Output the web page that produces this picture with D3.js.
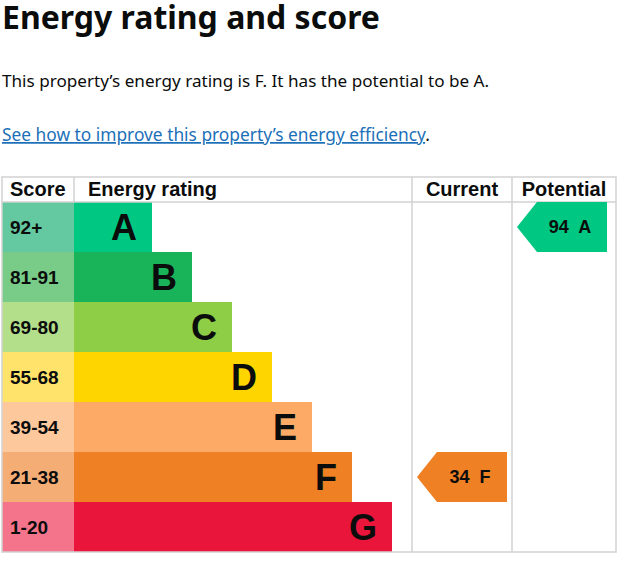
<!DOCTYPE html>
<html>
<head>
<meta charset="utf-8">
<script src="https://cdn.jsdelivr.net/npm/d3@7"></script>
<style>
  body { margin: 0; background: #fff; }
  svg text { white-space: pre; }
</style>
</head>
<body>
<div id="epc"></div>
<script>
// Rating bands, top (best) to bottom
const ratings = ["A", "B", "C", "D", "E", "F", "G"];
const scoreRanges = ["92+", "81-91", "69-80", "55-68", "39-54", "21-38", "1-20"];
const barColors = ["#00c781", "#19b459", "#8dce46", "#ffd500", "#fcaa65", "#ef8023", "#e9153b"];
const scoreColors = ["#64c8a0", "#78cc87", "#b3de8a", "#ffe36a", "#fec89d", "#f5ad76", "#f3748b"];
const headers = ["Score", "Energy rating", "Current", "Potential"];

// Current and potential scores
const currentScore = 34, currentRating = "F";
const potentialScore = 94, potentialRating = "A";

const width = 623, height = 564;
const font = "'Liberation Sans', Arial, sans-serif";
const bodyFont = "'Noto Sans', 'Open Sans', sans-serif";
const grid = "#d2d2d2";

const svg = d3.select("#epc").append("svg")
  .attr("width", width)
  .attr("height", height);

// shrink / grow a text until it is the wanted width
function fit(sel, target) {
  const node = sel.node();
  const size = parseFloat(sel.attr("font-size"));
  const w = node.getComputedTextLength();
  sel.attr("font-size", (size * target / w).toFixed(2));
  return sel;
}

// Heading and intro text
fit(svg.append("text")
  .attr("x", 2).attr("y", 29)
  .attr("font-family", bodyFont).attr("font-weight", 700).attr("font-size", 32)
  .attr("fill", "#0b0c0c")
  .text("Energy rating and score"), 378);

fit(svg.append("text")
  .attr("x", 2).attr("y", 87)
  .attr("font-family", bodyFont).attr("font-size", 18)
  .attr("fill", "#0b0c0c")
  .text(`This property\u2019s energy rating is ${currentRating}. It has the potential to be ${potentialRating}.`), 487);

const link = svg.append("text")
  .attr("x", 2).attr("y", 141)
  .attr("font-family", bodyFont).attr("font-size", 18);
link.append("tspan")
  .attr("fill", "#1d70b8")
  .attr("text-decoration", "underline")
  .text("See how to improve this property\u2019s energy efficiency");
link.append("tspan").attr("fill", "#0b0c0c").text(".");
fit(link, 428);

// Table layout
const tableTop = 177, headBottom = 202, tableBottom = 552;
const tableLeft = 2, scoreRight = 74, currentLeft = 412, potentialLeft = 512, tableRight = 616;

const y = d3.scaleBand().domain(ratings).range([headBottom, tableBottom]);
// bar reach grows with each lower band
const barEnd = d3.scaleLinear().domain([0, ratings.length - 1]).range([152, 392]);

const rows = svg.append("g").selectAll("g")
  .data(ratings)
  .join("g")
  .attr("transform", d => `translate(0,${y(d)})`);

rows.append("rect")
  .attr("x", tableLeft).attr("width", scoreRight - tableLeft)
  .attr("height", y.bandwidth())
  .attr("fill", (d, i) => scoreColors[i]);

rows.append("rect")
  .attr("x", scoreRight)
  .attr("width", (d, i) => barEnd(i) - scoreRight)
  .attr("height", y.bandwidth())
  .attr("fill", (d, i) => barColors[i]);

rows.append("text")
  .attr("x", 10).attr("y", y.bandwidth() / 2 + 6.5)
  .attr("font-family", font).attr("font-weight", 700).attr("font-size", 19)
  .attr("fill", "#0b0c0c")
  .text((d, i) => scoreRanges[i]);

rows.append("text")
  .attr("x", (d, i) => barEnd(i) - 15)
  .attr("y", y.bandwidth() / 2 + 13)
  .attr("text-anchor", "end")
  .attr("font-family", font).attr("font-weight", 700).attr("font-size", 36)
  .attr("fill", "#0b0c0c")
  .text(d => d);

// Grid lines
const lines = svg.append("g").attr("stroke", grid).attr("stroke-width", 1.5).attr("fill", "none");
lines.append("rect").attr("x", tableLeft).attr("y", tableTop)
  .attr("width", tableRight - tableLeft).attr("height", tableBottom - tableTop);
lines.append("line").attr("x1", tableLeft).attr("x2", tableRight).attr("y1", headBottom).attr("y2", headBottom);
lines.append("line").attr("x1", scoreRight).attr("x2", scoreRight).attr("y1", tableTop).attr("y2", headBottom);
[currentLeft, potentialLeft].forEach(x =>
  lines.append("line").attr("x1", x).attr("x2", x).attr("y1", tableTop).attr("y2", tableBottom));

// Header labels
const headX = [10, 88, (currentLeft + potentialLeft) / 2, (potentialLeft + tableRight) / 2];
svg.append("g").selectAll("text")
  .data(headers)
  .join("text")
  .attr("x", (d, i) => headX[i])
  .attr("y", 196)
  .attr("text-anchor", (d, i) => i < 2 ? "start" : "middle")
  .attr("font-family", font).attr("font-weight", 700).attr("font-size", 20)
  .attr("fill", "#0b0c0c")
  .text(d => d);

// Arrow markers for current / potential
function arrow(colLeft, colRight, score, rating) {
  const i = ratings.indexOf(rating);
  const y0 = y(rating), h = y.bandwidth();
  const tip = colLeft + 5, body = tip + 20, end = colRight - 5;
  svg.append("path")
    .attr("d", `M${tip},${y0 + h / 2}L${body},${y0}L${end},${y0}L${end},${y0 + h}L${body},${y0 + h}Z`)
    .attr("fill", barColors[i]);
  svg.append("text")
    .attr("x", (body + end) / 2 - 2)
    .attr("y", y0 + h / 2 + 6)
    .attr("text-anchor", "middle")
    .attr("font-family", font).attr("font-weight", 700).attr("font-size", 18)
    .attr("fill", "#0b0c0c")
    .text(`${score}  ${rating}`);
}
arrow(currentLeft, potentialLeft, currentScore, currentRating);
arrow(potentialLeft, tableRight - 4, potentialScore, potentialRating);
</script>
</body>
</html>
